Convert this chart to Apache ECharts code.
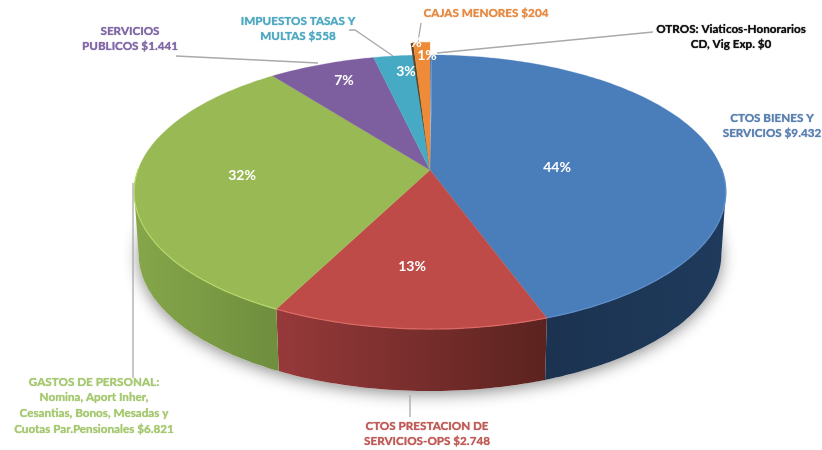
<!DOCTYPE html>
<html><head><meta charset="utf-8">
<style>html,body{margin:0;padding:0;background:#fff}#c{width:822px;height:450px}</style>
<script src="https://cdn.jsdelivr.net/npm/echarts@6/dist/echarts.min.js"></script>
</head><body><div id="c"></div>
<script>
// ---- data
const categories = ['CTOS BIENES Y SERVICIOS','CTOS PRESTACION DE SERVICIOS-OPS','GASTOS DE PERSONAL','SERVICIOS PUBLICOS','IMPUESTOS TASAS Y MULTAS','CAJAS MENORES','OTROS'];
const values = [9432, 2748, 6821, 1441, 558, 204, 0];
const percentLabels = ['44%','13%','32%','7%','3%','1%','0%'];
const categoryLabels = [
  ['CTOS BIENES Y','SERVICIOS $9.432'],
  ['CTOS PRESTACION DE','SERVICIOS-OPS $2.748'],
  ['GASTOS DE PERSONAL:','Nomina, Aport Inher,','Cesantias, Bonos, Mesadas y','Cuotas Par.Pensionales $6.821'],
  ['SERVICIOS','PUBLICOS $1.441'],
  ['IMPUESTOS TASAS Y','MULTAS $558'],
  ['CAJAS MENORES $204'],
  ['OTROS: Viaticos-Honorarios','CD, Vig Exp. $0']
];
// ---- styles and layout
const topColors = ['#4a7ebb','#be4b48','#98b954','#7d5fa0','#46aac5','#ee8b38','#888888'];
const wallFrom = ['#1b3350','#97393a','#86a64a','#5c4476','#32809a','#b0652a','#666'];
const wallTo   = ['#1f3a5c','#5b231f','#6f8e3e','#5c4476','#32809a','#b0652a','#666'];
const rimColors = ['#5d8fc9','#d96a66','#b5d86a','#9478b8','#62c0d8','#f7a860','#999'];
const textColors = ['#5a80b0','#bf5a57','#a5c870','#7f68a5','#4fa8c2','#e58a43','#111111'];
const labelCenters = [[772,118],[427,426],[94,382],[130,31],[298,21],[486,13],[731,29]];
const labelLineHeight = 15.7;
const percentCenters = [[557,167],[412,266],[242,175],[344,80],[406,71],[427,55],[412,42]];
const leaderLines = [
  [],
  [[410,395],[410,417]],
  [[133,183],[133,378]],
  [[176,56],[318,63]],
  [[349,30],[355,30],[393,56]],
  [[421,23],[418,42]],
  [[437,53],[540,43],[653,32]]
];
const cx = 430, cy = 170, R = 292, H = 133.5, K = 0.1606, DEPTH = 62, BOTTOM_SCALE = 0.985;
const EXPLODE = [1,1,1,1,1,1.13,1];
const FONT = 'bold 11.7px Lato, Carlito, sans-serif';

function project(deg, r){
  const t = deg*Math.PI/180, u = r*Math.sin(t), v = r*Math.cos(t), w = 1+K*v;
  return [cx + R*u/w, cy - H*v/w];
}
function lower(p){ return [cx + (p[0]-cx)*BOTTOM_SCALE, p[1]+DEPTH]; }
function arc(a,b,r){
  const n = Math.max(2, Math.ceil(Math.abs(b-a))), pts=[];
  for(let i=0;i<=n;i++) pts.push(project(a+(b-a)*i/n, r));
  return pts;
}
const total = values.reduce((s,v)=>s+v,0);
const slices = []; let acc = 0;
values.forEach(v=>{ const a=acc/total*360; acc+=v; slices.push([a, acc/total*360]); });
const SIL = Math.acos(-K)*180/Math.PI; // silhouette angle of the disc

const idx = values.map((_,i)=>i);
const none = {animation:false, silent:true, coordinateSystem:'none', type:'custom'};

const option = {
  backgroundColor:'#fff',
  animation:false,
  series:[
    // soft ground shadow
    Object.assign({}, none, {name:'sombra', z:1, data:[0], renderItem(){
      return {type:'polygon', shape:{points:arc(0,360,1).map(lower)},
        style:{fill:'#ffffff', shadowColor:'rgba(0,0,0,0.45)', shadowBlur:16, shadowOffsetY:3}};
    }}),
    // outer wall
    Object.assign({}, none, {name:'pared', z:2, data:idx, renderItem(p){
      const i=p.dataIndex, a=Math.max(slices[i][0],SIL), b=Math.min(slices[i][1],360-SIL);
      if(b<=a) return {type:'group',children:[]};
      const top=arc(a,b,1), bot=top.map(lower).reverse();
      return {type:'polygon', shape:{points:top.concat(bot)}, style:{
        fill:new echarts.graphic.LinearGradient(0,0,1,0,[{offset:0,color:wallFrom[i]},{offset:1,color:wallTo[i]}]),
        stroke:null}};
    }}),
    // top face
    Object.assign({}, none, {name:'cara', z:3, data:idx, renderItem(p){
      const i=p.dataIndex, r=EXPLODE[i], s=slices[i];
      if(s[1]-s[0]<=0) return {type:'group',children:[]};
      const a=arc(s[0],s[1],r), hub=project(0,0), children=[];
      if(r>1){
        const l=a[0], inner=[l[0]-2.5,l[1]+1];
        const right=a[a.length-1];
        children.push({type:'polygon',shape:{points:[hub,[right[0]+1.2,right[1]],[right[0]+1.2,project(0,1)[1]+60],hub]},style:{fill:'#f4f6f8'}});
        children.push({type:'polygon',shape:{points:[hub,l,inner]},style:{fill:'#5f4426'}});
      }
      children.push({type:'polygon',shape:{points:[hub].concat(a)},style:{fill:topColors[i],stroke:topColors[i],lineWidth:0.3}});
      const x=Math.max(s[0],SIL-10), y=Math.min(s[1],370-SIL);
      if(y>x) children.push({type:'polyline',shape:{points:arc(x,y,1)},style:{stroke:rimColors[i],fill:null,lineWidth:1.2}});
      return {type:'group',children};
    }}),
    // leader lines
    Object.assign({}, none, {name:'guias', z:4, data:idx, renderItem(p){
      const l=leaderLines[p.dataIndex];
      if(!l.length) return {type:'group',children:[]};
      return {type:'polyline',shape:{points:l},style:{stroke:'#a9a9a9',fill:null,lineWidth:1.3}};
    }}),
    // texts
    Object.assign({}, none, {name:'textos', z:5, data:idx, renderItem(p){
      const i=p.dataIndex, c=labelCenters[i], children=[];
      categoryLabels[i].forEach((t,j)=>children.push({type:'text',x:c[0],y:c[1]+j*labelLineHeight,
        style:{text:t,font:FONT,fill:textColors[i],textAlign:'center',textVerticalAlign:'middle',textShadowColor:textColors[i],textShadowBlur:1}}));
      const q=percentCenters[i];
      children.push({type:'text',x:q[0],y:q[1],style:{text:percentLabels[i],font:'bold 14px Lato, Carlito, sans-serif',fill:'#ffffff',textAlign:'center',textVerticalAlign:'middle'}});
      return {type:'group',children};
    }})
  ]
};
echarts.init(document.getElementById('c'),null,{renderer:'canvas'}).setOption(option);
</script></body></html>
